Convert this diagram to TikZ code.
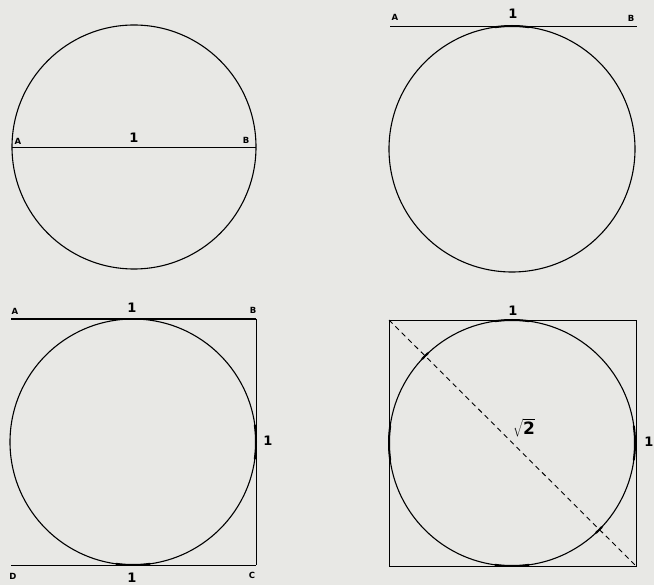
\documentclass[tikz,border=0pt]{standalone}
\usepackage{fontspec}
\setmainfont{DejaVu Sans}
\usetikzlibrary{calc}
\definecolor{paper}{RGB}{232,232,229}

\begin{document}
\begin{tikzpicture}[
      x=1pt, y=-1pt,
      rim/.style={line width=1.1pt},
      edge/.style={line width=0.9pt},
      heavy/.style={line width=2pt},
      touch/.style={line width=2pt},
      pt/.style={font=\bfseries\fontsize{8.5}{10}\selectfont, inner sep=0pt},
      len/.style={font=\bfseries\fontsize{13}{15}\selectfont, inner sep=0pt}
    ]
      \fill[paper] (0,0) rectangle (654,585);
      \useasboundingbox (0,0) rectangle (654,585);

      % circle with diameter AB
      \coordinate (c1) at (134,147);
      \coordinate (a1) at (12,147);
      \coordinate (b1) at (256,147);
      \draw[rim] (c1) circle[radius=122pt];
      \draw[edge] (a1) -- (b1);
      \node[pt] (la1) at (18,141) {A};
      \node[pt] (lb1) at (246,140) {B};
      \node[len] (l1) at (134,138) {1};

      % circle under tangent AB
      \coordinate (c2) at (512,149);
      \coordinate (a2) at (390,26);
      \coordinate (b2) at (637,26);
      \draw[rim] (c2) circle[radius=123pt];
      \draw[edge] (a2) -- (b2);
      \draw[touch] ($(c2)+(82:123pt)$) arc[start angle=82, end angle=98, radius=123pt];
      \node[pt] (la2) at (395,17) {A};
      \node[pt] (lb2) at (631,18) {B};
      \node[len] (l2) at (513,14) {1};

      % circle with three sides ABCD
      \coordinate (c3) at (133,442);
      \coordinate (a3) at (11,319);
      \coordinate (b3) at (256,319);
      \coordinate (s3) at (256,565);
      \coordinate (d3) at (11,565);
      \draw[rim] (c3) circle[radius=123pt];
      \draw[heavy] (a3) -- (b3);
      \draw[edge] (b3) -- (s3);
      \draw[edge] (d3) -- (s3);
      \foreach \t in {0,270}
        \draw[touch] ($(c3)+({\t-8}:123pt)$) arc[start angle=\t-8, end angle=\t+8, radius=123pt];
      \node[pt] (la3) at (15,311) {A};
      \node[pt] (lb3) at (253,310) {B};
      \node[pt] (lc3) at (252,575) {C};
      \node[pt] (ld3) at (13,576) {D};
      \node[len] (l3t) at (132,308) {1};
      \node[len] (l3r) at (268,441) {1};
      \node[len] (l3b) at (132,578) {1};

      % circle in square with diagonal
      \coordinate (c4) at (512,443);
      \coordinate (p1) at (389,320);
      \coordinate (p2) at (636,320);
      \coordinate (p3) at (636,566);
      \coordinate (p4) at (389,566);
      \draw[rim] (c4) circle[radius=123pt];
      \draw[edge] (p1) -- (p2) -- (p3) -- (p4) -- cycle;
      \draw[edge, dash pattern=on 5pt off 4pt] (p1) -- (p3);
      \foreach \t in {0,90,180,270}
        \draw[touch] ($(c4)+({\t-8}:123pt)$) arc[start angle=\t-8, end angle=\t+8, radius=123pt];
      \foreach \t in {135,-45}
        \draw[touch] ($(c4)+({\t-2}:123pt)$) arc[start angle=\t-2, end angle=\t+2, radius=123pt];
      \node[len] (l4t) at (513,311) {1};
      \node[len] (l4r) at (649,442) {1};
      \node[len, anchor=south west] (l4d) at (513,437) {$\sqrt{\mbox{\bfseries\fontsize{17}{19}\selectfont 2}}$};
    \end{tikzpicture}
\end{document}
